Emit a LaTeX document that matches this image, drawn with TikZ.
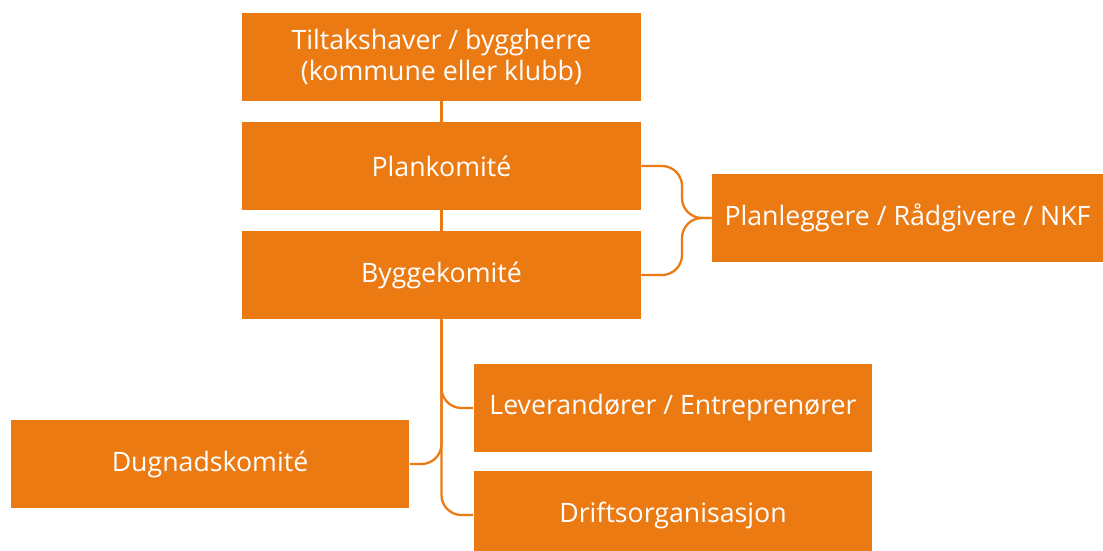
\documentclass[tikz,border=0pt]{standalone}
\usepackage{fontspec}
\setmainfont{Open Sans}
\usepackage{xcolor}
\usepackage{tikz}
\usetikzlibrary{positioning, calc}
\definecolor{oransje}{RGB}{236,122,19}

\tikzset{
    boks/.style={fill=oransje, text=white, minimum width=7.98cm, minimum height=1.76cm,
        align=center, inner sep=0pt, font=\fontsize{15.2}{17.8}\selectfont},
    linje/.style={draw=oransje, line width=1.3pt, rounded corners=0.4cm}
}

\begin{document}
\begin{tikzpicture}[x=0.02cm, y=-0.02cm]
    \useasboundingbox (0,0) rectangle (1103,551);

    % Hovedlinje
    \node[boks] (tiltak) at (441.5,57) {Tiltakshaver / byggherre\\(kommune eller klubb)};
    \node[boks] (plankom) at (441.5,166) {Plankomité};
    \node[boks] (byggkom) at (441.5,275) {Byggekomité};

    % Sidegrener
    \node[boks, minimum width=7.82cm] (planlegg) at (907.5,218) {Planleggere / Rådgivere / NKF};
    \node[boks] (leveran) at (673,408) {Leverandører / Entreprenører};
    \node[boks] (dugnad) at (210,464) {Dugnadskomité};
    \node[boks] (drift) at (673,515) {Driftsorganisasjon};

    \coordinate (samle) at (682,218);

    \draw[linje] (tiltak.south) -- (plankom.north);
    \draw[linje] (plankom.south) -- (byggkom.north);
    \draw[linje] (plankom.east) -| (samle) -- (planlegg.west);
    \draw[linje] (byggkom.east) -| (samle) -- (planlegg.west);
    \draw[linje] (byggkom.south) |- (leveran.west);
    \draw[linje] (byggkom.south) |- (dugnad.east);
    \draw[linje] (byggkom.south) |- (drift.west);
\end{tikzpicture}
\end{document}
